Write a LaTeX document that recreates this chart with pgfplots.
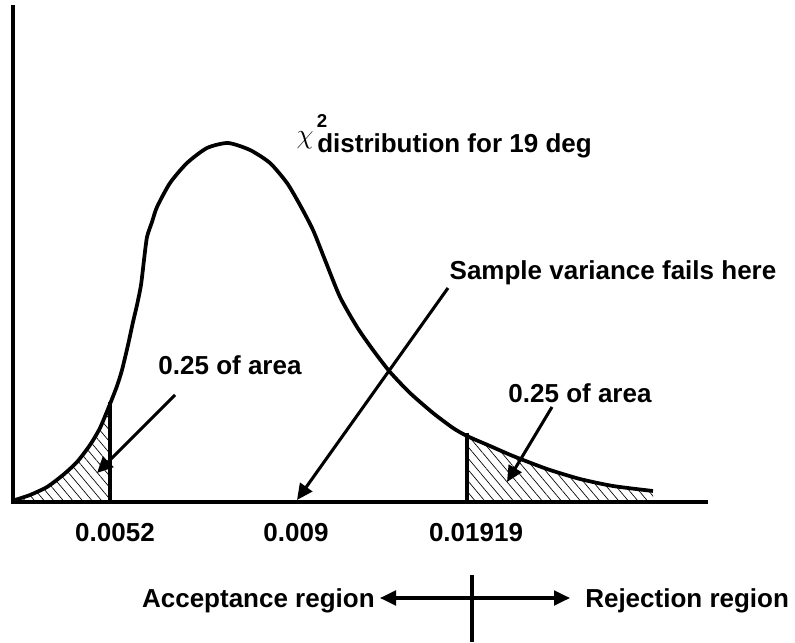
\documentclass[border=0pt]{standalone}
\usepackage{pgfplots}
\pgfplotsset{compat=1.18}
\usepackage{fontspec}
\setmainfont{Liberation Sans}
\usetikzlibrary{arrows.meta,patterns.meta}
\begin{document}
\begin{tikzpicture}
\useasboundingbox (0,0) rectangle (596.25pt,481.5pt);
\begin{axis}[
  at={(9.75pt,105pt)}, anchor=south west,
  scale only axis, width=519.75pt, height=371.25pt,
  xmin=13, xmax=706, ymin=140, ymax=635,
  axis x line=bottom, axis y line=left,
  axis line style={-, line width=2.8pt, line cap=rect},
  clip=false,
  xtick={115,296,476},
  xticklabels={\textbf{0.0052},\textbf{0.009},\textbf{0.01919}},
  major tick length=0pt,
  xticklabel style={anchor=base, yshift=-29.25pt, font=\fontsize{19.5pt}{23pt}\selectfont\bfseries},
  ytick=\empty,
]
% shaded tails
\addplot[draw=none, pattern={Lines[angle=-50, distance=5.5pt, line width=0.5pt]}] coordinates {
 (15,142) (30,147) (47,155) (63,167) (77,180) (90,197) (100,214) (110,238) (110,142)} -- cycle;
\addplot[draw=none, pattern={Lines[angle=-50, distance=5.5pt, line width=0.5pt]}] coordinates {
 (467,142) (467,206) (490,196) (513,186) (547,173) (580,163) (613,156) (653,151) (653,142)} -- cycle;
% chi-square curve
\addplot[black, line width=2.8pt, smooth, tension=0.4, line join=round] coordinates {
 (15,142) (30,147) (47,155) (63,167) (77,180) (90,197) (100,214) (110,238)
 (117,256) (122,272) (128,297) (133,320) (137,337) (141,357) (144,382)
 (147,405) (152,420) (157,435) (170,459) (187,479) (207,494) (228,499) (250,492)
 (270,479) (287,459) (300,437) (313,412) (325,382) (340,345) (357,315) (373,292)
 (390,270) (410,249) (433,229) (453,214) (467,206) (490,196) (513,186) (547,173)
 (580,163) (613,156) (653,151)};
% boundary lines
\addplot[black, line width=2.8pt] coordinates {(110,240) (110,141)};
\addplot[black, line width=2.8pt] coordinates {(467,209) (467,141)};
% annotations
\begin{scope}[font=\fontsize{19.5pt}{23pt}\selectfont\bfseries]
\node[anchor=base, inner sep=0pt] at (axis cs:230,267) {0.25 of area};
\node[anchor=base, inner sep=0pt] at (axis cs:613,362) {Sample variance fails here};
\node[anchor=base, inner sep=0pt] at (axis cs:580,239) {0.25 of area};
\node[anchor=base west, inner sep=0pt] at (axis cs:317,489) {distribution for 19 deg};
\node[anchor=base east, inner sep=0pt] at (axis cs:375,35) {Acceptance region};
\node[anchor=base west, inner sep=0pt] at (axis cs:585,35) {Rejection region};
\end{scope}
\node[inner sep=0pt, font=\fontsize{22pt}{24pt}\selectfont] at (axis cs:305,502) {$\chi$};
\node[inner sep=0pt, font=\fontsize{14pt}{16pt}\selectfont\bfseries] at (axis cs:322,521) {2};
\draw[line width=2.3pt, -{Triangle[length=12pt,width=11pt]}] (axis cs:175,247) -- (axis cs:97,169);
\draw[line width=2.3pt, -{Triangle[length=12pt,width=11pt]}] (axis cs:448,354) -- (axis cs:297,142);
\draw[line width=2.3pt, -{Triangle[length=12pt,width=11pt]}] (axis cs:552,235) -- (axis cs:507,160);
\draw[line width=2.3pt, {Triangle[length=12pt,width=11pt]}-{Triangle[length=12pt,width=11pt]}] (axis cs:380,44) -- (axis cs:570,44);
\draw[line width=2.3pt] (axis cs:472,67) -- (axis cs:472,0);
\end{axis}
\end{tikzpicture}
\end{document}
